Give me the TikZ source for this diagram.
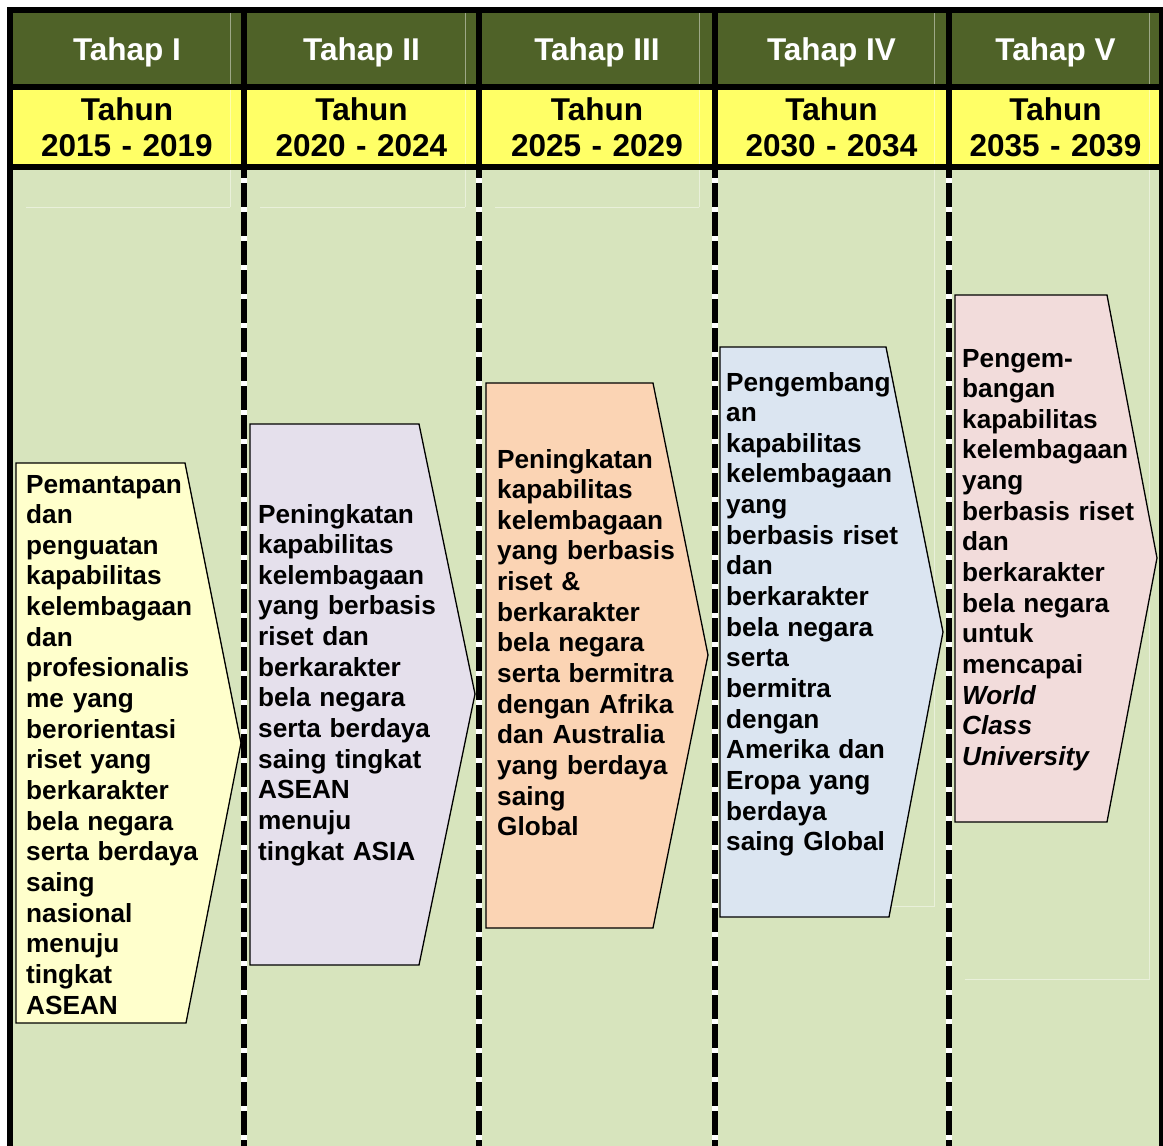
\documentclass[tikz,border=0pt]{standalone}
\usepackage{fontspec}
\setmainfont{Liberation Sans}
\definecolor{hdrgreen}{HTML}{4F6228}
\definecolor{yrow}{HTML}{FFFF66}
\definecolor{bodygreen}{HTML}{D7E4BD}
\definecolor{cA}{HTML}{FFFFCC}
\definecolor{cB}{HTML}{E5E0EC}
\definecolor{cC}{HTML}{FBD4B4}
\definecolor{cD}{HTML}{DBE5F1}
\definecolor{cE}{HTML}{F2DCDB}
\begin{document}
\begin{tikzpicture}[x=1pt,y=-1pt,
  rule/.style={black,line width=6pt},
  faint/.style={draw=white,opacity=0.45,line width=0.8pt},
  sepgap/.style={white,line width=6pt},
  sepdash/.style={black,line width=6pt,dash pattern=on 24pt off 5pt,dash phase=16pt},
  chev/.style={draw=black,line width=1.3pt},
  hdr/.style={text=white,font=\fontsize{31.5}{36.7}\selectfont\bfseries,inner sep=0pt,anchor=base},
  yr/.style={text=black,font=\fontsize{31.5}{36.7}\selectfont\bfseries,inner sep=0pt,anchor=base,align=center,text width=220pt},
  stagetext/.style={text=black,font=\fontsize{26.2}{30.65}\selectfont\bfseries,inner sep=0pt,anchor=base west,align=left,text width=230pt}
]
\useasboundingbox (0,0) rectangle (1163,1146);
\begin{scope}
\clip (0,0) rectangle (1163,1146);
\fill[white] (0,0) rectangle (1163,1146);
\fill[hdrgreen] (10,10) rectangle (1162,86.5);
\fill[yrow] (10,86.5) rectangle (1162,167);
\fill[bodygreen] (10,167) rectangle (1162,1146);
% faint cell lines
\draw[faint] (230,13) -- (230,207) (26,207) -- (230,207);
\draw[faint] (465,13) -- (465,207) (260,207) -- (465,207);
\draw[faint] (699,13) -- (699,207) (495,207) -- (699,207);
\draw[faint] (934,13) -- (934,906) -- (730,906);
\draw[faint] (1149,13) -- (1149,979) -- (965,979);
% rules
\draw[rule] (10,86.5) -- (1162,86.5);
\draw[rule] (10,167) -- (1162,167);
\foreach \xx in {244,479,714.5,949}{
  \draw[rule] (\xx,10) -- (\xx,170);
  \draw[sepgap] (\xx,170) -- (\xx,1146);
  \draw[sepdash] (\xx,170) -- (\xx,1146);
}
\draw[rule] (10,7) -- (10,1146);
\draw[rule] (1162,7) -- (1162,1146);
\draw[rule] (7,10) -- (1165,10);
% chevrons
\draw[chev,fill=cA] (16,463) -- (185,463) -- (241,743) -- (186,1023) -- (16,1023) -- cycle;
\draw[chev,fill=cB] (250,424) -- (419,424) -- (475,694) -- (419,965) -- (250,965) -- cycle;
\draw[chev,fill=cC] (486,383) -- (653,383) -- (708,655) -- (653,928) -- (486,928) -- cycle;
\draw[chev,fill=cD] (720,347) -- (886,347) -- (943,632) -- (889,917) -- (720,917) -- cycle;
\draw[chev,fill=cE] (955,295) -- (1107,295) -- (1157,558) -- (1107,822) -- (955,822) -- cycle;
\end{scope}
% header texts
\node[hdr] (h1) at (127,60) {Tahap I};
\node[hdr] (h2) at (361.5,60) {Tahap II};
\node[hdr] (h3) at (597,60) {Tahap III};
\node[hdr] (h4) at (831.5,60) {Tahap IV};
\node[hdr] (h5) at (1055.5,60) {Tahap V};
\node[yr] (y1) at (127,120) {Tahun\\2015 - 2019};
\node[yr] (y2) at (361.5,120) {Tahun\\2020 - 2024};
\node[yr] (y3) at (597,120) {Tahun\\2025 - 2029};
\node[yr] (y4) at (831.5,120) {Tahun\\2030 - 2034};
\node[yr] (y5) at (1055.5,120) {Tahun\\2035 - 2039};
% stage texts
\node[stagetext] (t1) at (26,493) {Pemantapan\\dan\\penguatan\\kapabilitas\\kelembagaan\\dan\\profesionalis\\me yang\\berorientasi\\riset yang\\berkarakter\\bela negara\\serta berdaya\\saing\\nasional\\menuju\\tingkat\\ASEAN};
\node[stagetext] (t2) at (258,523) {Peningkatan\\kapabilitas\\kelembagaan\\yang berbasis\\riset dan\\berkarakter\\bela negara\\serta berdaya\\saing tingkat\\ASEAN\\menuju\\tingkat ASIA};
\node[stagetext] (t3) at (497,468) {Peningkatan\\kapabilitas\\kelembagaan\\yang berbasis\\riset \&\\berkarakter\\bela negara\\serta bermitra\\dengan Afrika\\dan Australia\\yang berdaya\\saing\\Global};
\node[stagetext] (t4) at (726,391) {Pengembang\\an\\kapabilitas\\kelembagaan\\yang\\berbasis riset\\dan\\berkarakter\\bela negara\\serta\\bermitra\\dengan\\Amerika dan\\Eropa yang\\berdaya\\saing Global};
\node[stagetext] (t5) at (962,367) {Pengem-\\bangan\\kapabilitas\\kelembagaan\\yang\\berbasis riset\\dan\\berkarakter\\bela negara\\untuk\\mencapai\\\textit{World}\\\textit{Class}\\\textit{University}};
\end{tikzpicture}
\end{document}
